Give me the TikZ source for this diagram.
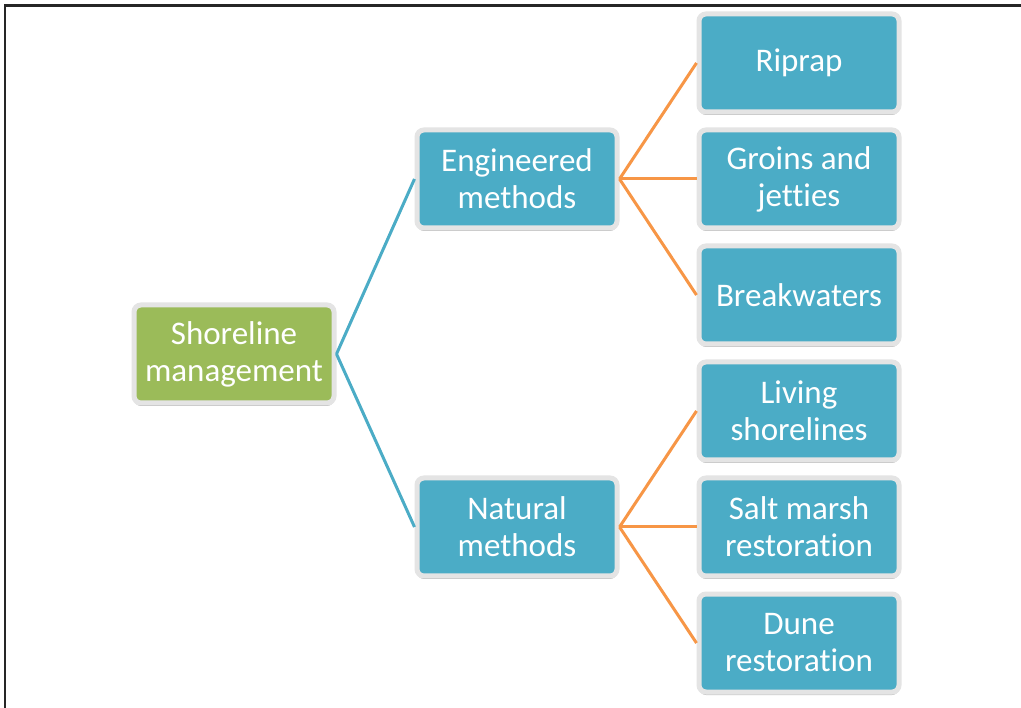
\documentclass[tikz,border=0pt]{standalone}
\usepackage{fontspec}
\setmainfont{Carlito}[Ligatures=NoCommon,RawFeature={-liga}]
\usetikzlibrary{shadows}
\definecolor{boxblue}{HTML}{4BACC6}
\definecolor{boxgreen}{HTML}{9BBB59}
\definecolor{boxrim}{HTML}{E4E4E4}
\definecolor{linkorange}{HTML}{F79646}
\tikzset{
  card/.style={rectangle, rounded corners=7pt, draw=boxrim, line width=5pt,
    fill=boxblue, text=white, align=center, minimum width=200pt, minimum height=98pt,
    inner sep=0pt, font=\fontsize{33}{37}\selectfont,
    drop shadow={shadow xshift=0pt, shadow yshift=-3pt, opacity=0.25, fill=black}},
  rootcard/.style={card, fill=boxgreen},
  bluelink/.style={draw=boxblue, line width=3pt},
  orangelink/.style={draw=linkorange, line width=3pt},
  frameline/.style={draw=black!85, line width=2.5pt}
}
\begin{document}
\begin{tikzpicture}[x=1pt,y=-1pt]
\useasboundingbox (0,0) rectangle (1021,708);
\fill[white] (0,0) rectangle (1021,708);
\coordinate (fa) at (5,708);
\coordinate (fb) at (5,5.5);
\coordinate (fc) at (1021,5.5);
\draw[frameline] (fa) -- (fb) -- (fc);
\node[rootcard] (root) at (234,354) {Shoreline\\management};
\node[card] (eng) at (517,179) {Engineered\\methods};
\node[card] (nat) at (517,527) {Natural\\methods};
\node[card] (rip) at (799,63) {Riprap};
\node[card] (gro) at (799,179) {Groins and\\jetties};
\node[card] (brk) at (799,295) {Breakwaters};
\node[card] (liv) at (799,411) {Living\\shorelines};
\node[card] (sal) at (799,527) {Salt marsh\\restoration};
\node[card] (dun) at (799,643) {Dune\\restoration};
\draw[bluelink] (root.east) -- (eng.west);
\draw[bluelink] (root.east) -- (nat.west);
\draw[orangelink] (eng.east) -- (rip.west);
\draw[orangelink] (eng.east) -- (gro.west);
\draw[orangelink] (eng.east) -- (brk.west);
\draw[orangelink] (nat.east) -- (liv.west);
\draw[orangelink] (nat.east) -- (sal.west);
\draw[orangelink] (nat.east) -- (dun.west);
\end{tikzpicture}
\end{document}
